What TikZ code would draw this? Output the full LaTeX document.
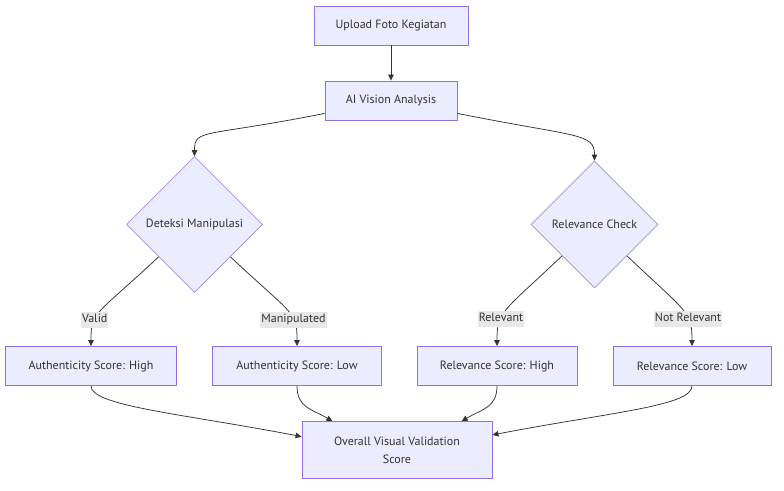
\documentclass[tikz,border=0pt]{standalone}
\usepackage{fontspec}
\setmainfont{PT Sans}
\usetikzlibrary{arrows.meta}
\usetikzlibrary{shapes.geometric}
\definecolor{boxfill}{HTML}{ECECFF}
\definecolor{boxline}{HTML}{9370DB}
\definecolor{edgeline}{HTML}{333333}
\definecolor{lblfill}{HTML}{E8E8E8}
\begin{document}
\begin{tikzpicture}[x=1pt, y=-1pt, text=edgeline, font=\fontsize{12}{18}\selectfont,
	box/.style={draw=boxline, fill=boxfill, line width=0.9pt, minimum height=39pt, inner sep=0pt},
	dia/.style={draw=boxline!80, fill=boxfill, diamond, aspect=1, inner sep=0pt, line width=0.7pt},
	lbl/.style={fill=lblfill, inner xsep=1pt, inner ysep=2pt, text height=9pt, text depth=3pt},
	arr/.style={-{Triangle[length=6pt,width=5.5pt]}, draw=edgeline, line width=0.75pt}]
			\useasboundingbox (0,0) rectangle (784,490);
			\node[box, minimum width=154pt] (up) at (391,25.5) {Upload Foto Kegiatan};
			\node[box, minimum width=132pt] (ai) at (391,100.5) {AI Vision Analysis};
			\node[dia, minimum size=136pt] (det) at (194.5,224.5) {Deteksi Manipulasi};
			\node[dia, minimum size=127pt] (rel) at (594.5,224.5) {Relevance Check};
			\node[box, minimum width=171pt] (ah) at (91,366) {Authenticity Score: High};
			\node[box, minimum width=169pt] (al) at (297,366) {Authenticity Score: Low};
			\node[box, minimum width=160pt] (rh) at (497,366) {Relevance Score: High};
			\node[box, minimum width=158pt] (rl) at (692,366) {Relevance Score: Low};
			\node[box, minimum width=190pt, minimum height=56.6pt, align=center] (ov) at (397,450) {Overall Visual Validation\\Score};
			\draw[arr] (up) -- (ai);
			\draw[arr] (ai.191) .. controls +(-120,24) and +(0,-28) .. (det.north);
			\draw[arr] (ai.349) .. controls +(120,24) and +(0,-28) .. (rel.north);
			\draw[arr] (det.222) .. controls +(-64,60) and +(0,-35) .. (ah.north) node[lbl, pos=0.65] {Valid};
			\draw[arr] (det.318) .. controls +(64,60) and +(0,-35) .. (al.north) node[lbl, pos=0.65] {Manipulated};
			\draw[arr] (rel.224) .. controls +(-60,57) and +(0,-35) .. (rh.north) node[lbl, pos=0.65] {Relevant};
			\draw[arr] (rel.316) .. controls +(60,57) and +(0,-35) .. (rl.north) node[lbl, pos=0.65] {Not Relevant};
			\draw[arr] (ah.south) .. controls +(0,20) and +(-120,-23) .. (ov.172);
			\draw[arr] (al.south) .. controls +(0,22) and +(-20,-12) .. (ov.156);
			\draw[arr] (rh.south) .. controls +(0,22) and +(20,-12) .. (ov.24);
			\draw[arr] (rl.south) .. controls +(0,20) and +(120,-23) .. (ov.9);
		\end{tikzpicture}
\end{document}
